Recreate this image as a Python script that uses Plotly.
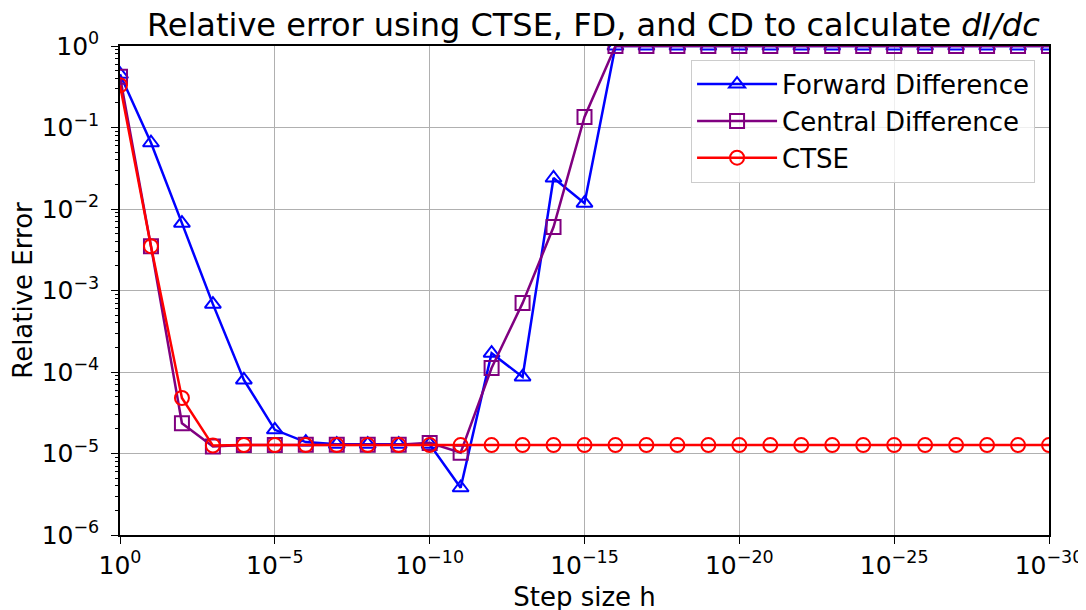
import plotly.graph_objects as go

# Step sizes h = 10^0 ... 10^-30
exponents = list(range(0, 31))
h_values = [10.0 ** (-k) for k in exponents]

fd_error = [0.45, 0.065, 6.7e-3, 6.8e-4, 8.0e-5, 1.95e-5, 1.38e-5, 1.3e-5, 1.3e-5,
            1.3e-5, 1.3e-5, 3.8e-6, 1.7e-4, 8.7e-5, 0.024, 0.0118,
            1, 1, 1, 1, 1, 1, 1, 1, 1, 1, 1, 1, 1, 1, 1]
cd_error = [0.42, 3.5e-3, 2.35e-5, 1.22e-5, 1.27e-5, 1.27e-5, 1.28e-5, 1.28e-5, 1.28e-5,
            1.28e-5, 1.35e-5, 1.02e-5, 1.12e-4, 7.0e-4, 6.0e-3, 0.135,
            1, 1, 1, 1, 1, 1, 1, 1, 1, 1, 1, 1, 1, 1, 1]
ctse_error = [0.33, 3.5e-3, 4.8e-5, 1.25e-5] + [1.27e-5] * 27

x_tick_vals = [1, 1e-5, 1e-10, 1e-15, 1e-20, 1e-25, 1e-30]
x_tick_text = ["10<sup>0</sup>", "10<sup>−5</sup>", "10<sup>−10</sup>", "10<sup>−15</sup>",
               "10<sup>−20</sup>", "10<sup>−25</sup>", "10<sup>−30</sup>"]
y_tick_vals = [1, 1e-1, 1e-2, 1e-3, 1e-4, 1e-5, 1e-6]
y_tick_text = ["10<sup>0</sup>", "10<sup>−1</sup>", "10<sup>−2</sup>", "10<sup>−3</sup>",
               "10<sup>−4</sup>", "10<sup>−5</sup>", "10<sup>−6</sup>"]
y_minor_vals = [m * 10.0 ** e for e in range(-6, 0) for m in range(2, 10)]

FONT = "DejaVu Sans"

fig = go.Figure()
series = [
    ("Forward Difference", fd_error, "blue", "triangle-up-open"),
    ("Central Difference", cd_error, "purple", "square-open"),
    ("CTSE", ctse_error, "red", "circle-open"),
]
for name, vals, color, sym in series:
    fig.add_trace(go.Scatter(
        x=h_values, y=vals, name=name, mode="lines+markers",
        line=dict(color=color, width=2.5),
        marker=dict(symbol=sym, size=14, color=color, line=dict(color=color, width=2)),
    ))

axis_common = dict(
    showline=True, linecolor="black", linewidth=1.5, mirror=True,
    showgrid=True, gridcolor="#b0b0b0", gridwidth=1.2,
    ticks="outside", ticklen=7, tickwidth=1.2, tickcolor="black",
    zeroline=False, automargin=False,
    tickfont=dict(family=FONT, size=25, color="black"),
)

fig.update_layout(
    width=1086, height=610,
    margin=dict(l=112, r=45, t=38, b=83),
    paper_bgcolor="white", plot_bgcolor="white",
    font=dict(family=FONT, color="black"),
    title=dict(text="Relative error using CTSE, FD, and CD to calculate <i>dI/dc</i>",
               x=0.539, xanchor="center", y=0.972, yanchor="middle",
               font=dict(family=FONT, size=32, color="black")),
    xaxis=dict(type="log", range=[0, -30], tickvals=x_tick_vals, ticktext=x_tick_text,
               title=dict(text="Step size h", font=dict(family=FONT, size=26), standoff=9),
               **axis_common),
    yaxis=dict(type="log", range=[-6, 0], tickvals=y_tick_vals, ticktext=y_tick_text,
               ticklabelstandoff=7,
               title=dict(text="Relative Error", font=dict(family=FONT, size=26), standoff=3),
               minor=dict(tickvals=y_minor_vals, ticks="outside", ticklen=3,
                          tickcolor="black", showgrid=False),
               **axis_common),
    legend=dict(x=0.985, y=0.972, xanchor="right", yanchor="top",
                bgcolor="rgba(255,255,255,0.8)", bordercolor="#cccccc", borderwidth=1,
                font=dict(family=FONT, size=26, color="black"),
                itemwidth=80, tracegroupgap=0),
    showlegend=True,
)

fig.write_html("out.html")
